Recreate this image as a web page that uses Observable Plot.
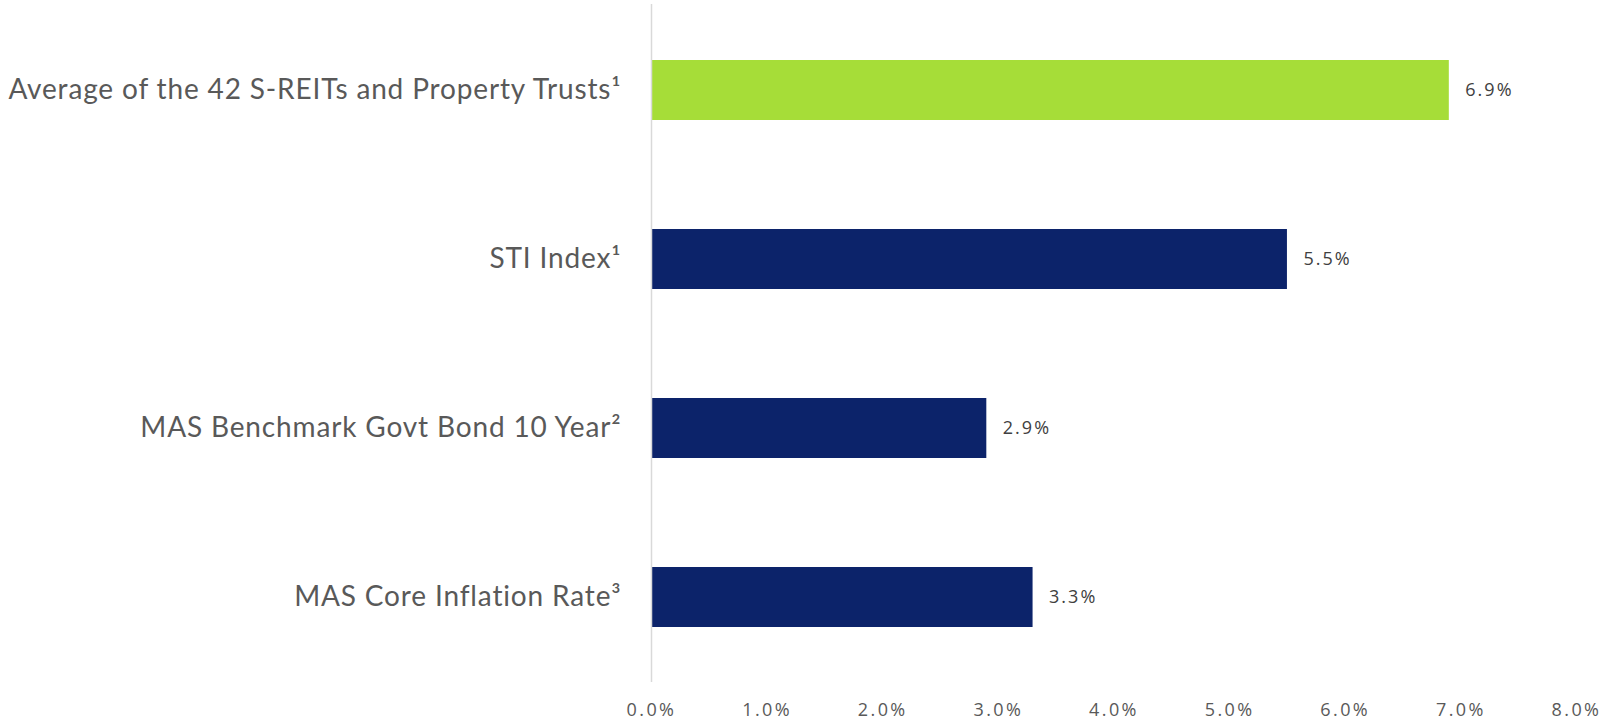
<!DOCTYPE html>
<html>
<head>
<meta charset="utf-8">
<script src="https://cdn.jsdelivr.net/npm/d3@7"></script>
<script src="https://cdn.jsdelivr.net/npm/@observablehq/plot@0.6"></script>
<style>
  html, body { margin: 0; padding: 0; background: #ffffff; }
  #chart svg { display: block; }
  g[aria-label="y-axis tick label"] text { font-family: Lato, "Open Sans", sans-serif; letter-spacing: 0.85px; }
  g[aria-label="x-axis tick label"] text { font-family: "Open Sans", sans-serif; letter-spacing: 2.4px; }
  g[aria-label="text"] text { letter-spacing: 2px; }
</style>
</head>
<body>
<div id="chart"></div>
<script>
const categories = [
  "Average of the 42 S-REITs and Property Trusts\u00B9",
  "STI Index\u00B9",
  "MAS Benchmark Govt Bond 10 Year\u00B2",
  "MAS Core Inflation Rate\u00B3"
];
const values = [6.9, 5.5, 2.9, 3.3];
const barColors = ["#a6dd38", "#0c236a", "#0c236a", "#0c236a"];
const xTicks = [0, 1, 2, 3, 4, 5, 6, 7, 8];

const data = categories.map((c, i) => ({category: c, value: values[i], color: barColors[i]}));
const pct = d => d.toFixed(1) + "%";

const chart = Plot.plot({
  width: 1610,
  height: 721,
  marginLeft: 651,
  marginRight: 34,
  marginTop: 4,
  marginBottom: 39,
  style: {background: "#ffffff", color: "#595959", fontFamily: "'Open Sans', sans-serif"},
  x: {domain: [0, 8], ticks: xTicks},
  y: {domain: categories, paddingInner: 0.645, paddingOuter: 0.325},
  color: {type: "identity"},
  marks: [
    Plot.barX(data, {x: "value", y: "category", fill: "color"}),
    Plot.ruleX([0], {stroke: "#d9d9d9", strokeWidth: 1.5}),
    Plot.text(data, {
      x: "value", y: "category", text: d => pct(d.value),
      textAnchor: "start", dx: 16, fontSize: 18, fill: "#404040",
      fontFamily: "'Open Sans', sans-serif"
    }),
    Plot.axisX({ticks: xTicks, tickFormat: pct, tickSize: 0, tickPadding: 21, fontSize: 18, label: null}),
    Plot.axisY({tickSize: 0, tickPadding: 30, fontSize: 28, label: null})
  ]
});
document.getElementById("chart").appendChild(chart);
</script>
</body>
</html>
